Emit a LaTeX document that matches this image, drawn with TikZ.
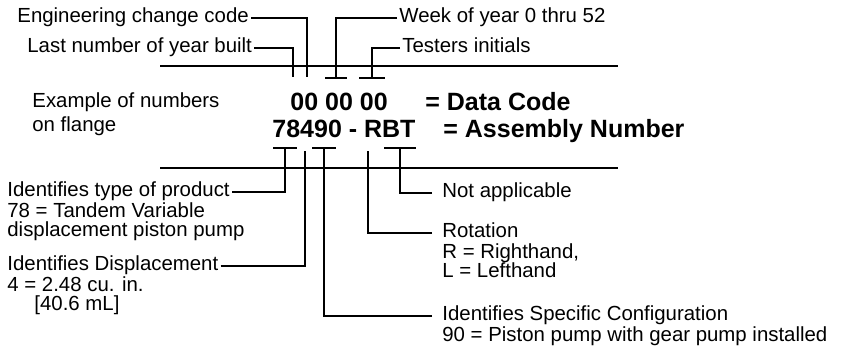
\documentclass[tikz,border=0pt]{standalone}
\usepackage{fontspec}
\setmainfont{Liberation Sans}
\usetikzlibrary{positioning}

\begin{document}
\begin{tikzpicture}[
    x=0.5pt, y=-0.5pt,
    lbl/.style={
        inner xsep=1pt,
        inner ysep=0pt,
        align=left,
        font=\fontsize{10.2}{9.8}\selectfont
    },
    head/.style={
        lbl,
        text height=7.3pt,
        text depth=2.5pt
    },
    code/.style={
        inner sep=0pt,
        font=\fontsize{12.5}{14}\selectfont\bfseries
    },
    conn/.style={
        line width=1pt
    },
    rule/.style={
        line width=1.3pt
    }
]
\useasboundingbox (0,0) rectangle (847,354);

% Data code labels
\node[head, anchor=west] (eng) at (15,18) {Engineering change code};
\node[head, anchor=west] (year) at (25,48) {Last number of year built};
\node[head, anchor=west] (week) at (397,18) {Week of year 0 thru 52};
\node[head, anchor=west] (test) at (400,48) {Testers initials};

% Numbers on flange
\node[head, anchor=west] (example) at (30,103) {Example of numbers};
\node[lbl, below=1.5pt of example.south west, anchor=north west] (exampletxt) {on flange};
\node[code, anchor=base west] (datacode) at (290,110) {00 00 00};
\node[code, anchor=base west] (dataname) at (425,110) {= Data Code};
\node[code, anchor=base west] (asmcode) at (272,137) {78490 - RBT};
\node[code, anchor=base west] (asmname) at (443,137) {= Assembly Number};

% Assembly number labels
\node[head, anchor=west] (prod) at (5,192) {Identifies type of product};
\node[lbl, below=0pt of prod.south west, anchor=north west] (prodtxt) {78 = Tandem Variable\\displacement piston pump};
\node[head, anchor=west] (disp) at (5,266) {Identifies Displacement};
\node[lbl, below=0pt of disp.south west, anchor=north west] (disptxt) {4 = 2.48 cu. in.\\\hspace*{13.5pt}[40.6 mL]};
\node[head, anchor=west] (na) at (440,193) {Not applicable};
\node[head, anchor=west] (rot) at (440,233) {Rotation};
\node[lbl, below=0pt of rot.south west, anchor=north west] (rottxt) {R = Righthand,\\L = Lefthand};
\node[head, anchor=west] (conf) at (440,316) {Identifies Specific Configuration};
\node[lbl, below=0pt of conf.south west, anchor=north west] (conftxt) {90 = Piston pump with gear pump installed};

% Tee points and rules
\coordinate (tY) at (293,77);
\coordinate (tE) at (307,77);
\coordinate (tW) at (336,78);
\coordinate (tT) at (372,78);
\coordinate (t78) at (285,148);
\coordinate (t4) at (305,151);
\coordinate (t90) at (324,148);
\coordinate (tR) at (368,151);
\coordinate (tBT) at (400,148);
\coordinate (rule1a) at (160,66);
\coordinate (rule1b) at (618,66);
\coordinate (rule2a) at (160,168);
\coordinate (rule2b) at (618,168);

\draw[rule] (rule1a) -- (rule1b);
\draw[rule] (rule2a) -- (rule2b);

\draw[conn] (eng.east) -| (tE);
\draw[conn] (year.east) -| (tY);
\draw[conn] (week.west) -| (tW);
\draw[conn] (test.west) -| (tT);
\draw[conn] (prod.east) -| (t78);
\draw[conn] (disp.east) -| (t4);
\draw[conn, shorten <=4pt] (na.west) -| (tBT);
\draw[conn, shorten <=4pt] (rot.west) -| (tR);
\draw[conn, shorten <=4pt] (conf.west) -| (t90);

% Tee bars
\foreach \p/\w in {tW/5.5pt, tT/6.5pt, t78/6pt, t90/6pt, tBT/8pt}
    \draw[conn] ([xshift=-\w]\p) -- ([xshift=\w]\p);

\end{tikzpicture}
\end{document}
